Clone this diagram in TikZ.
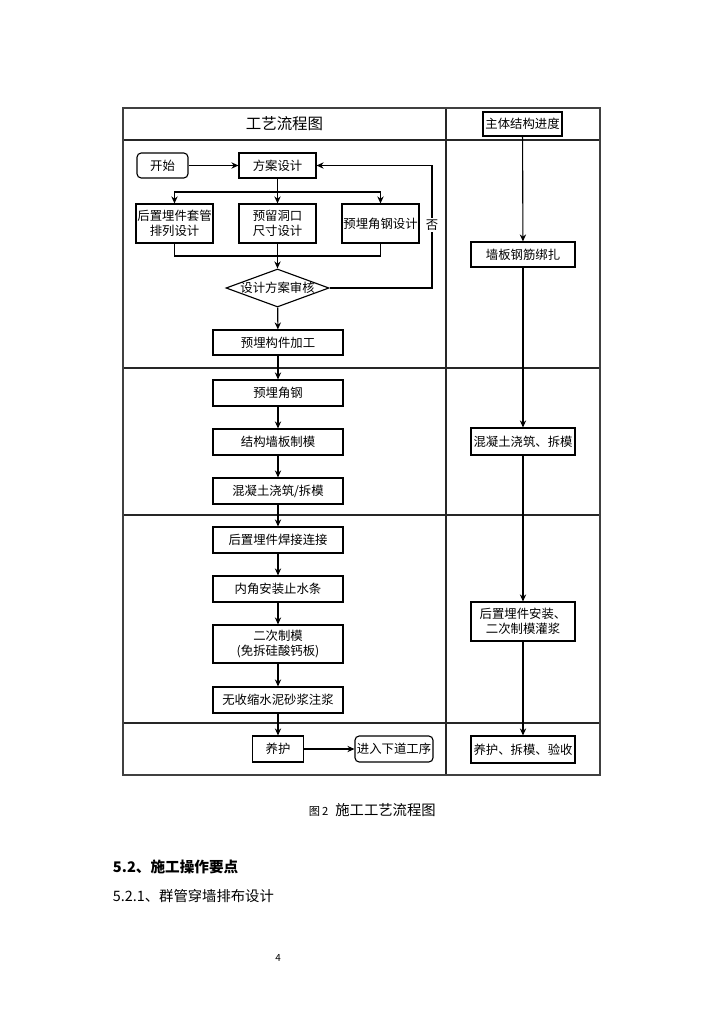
\documentclass[tikz,border=0pt]{standalone}
\usepackage{fontspec}
\setmainfont{Noto Sans CJK SC}
\usetikzlibrary{shapes.geometric,arrows.meta}

\tikzset{
  boxsize/.style 2 args={minimum width=#1*0.7113pt, minimum height=#2*0.7113pt},
  stepbox/.style={draw, line width=0.8pt, inner sep=1pt, align=center,
    font=\fontsize{8.8}{10.7}\selectfont},
  startbox/.style={stepbox, rounded corners=3pt},
  checkbox/.style={draw, diamond, aspect=2.7, line width=0.8pt, inner sep=-1.5pt,
    boxsize={103}{38}, font=\fontsize{8.8}{10.7}\selectfont},
  flow/.style={line width=0.8pt, -{Stealth[length=5pt,width=4.5pt]}},
  link/.style={line width=0.8pt},
  frame/.style={line width=1.2pt, draw=black!75},
  grid/.style={line width=0.9pt, draw=black!85}
}

\begin{document}
\begin{tikzpicture}[x=0.025cm, y=-0.025cm]
    % Page size in pixels of the reference
    \useasboundingbox (0,0) rectangle (724,1024);

    % Draw the table frame and its rows
    \draw[grid] (446,108) -- (446,775);
    \draw[grid] (123,140) -- (600,140);
    \draw[grid] (123,368) -- (600,368);
    \draw[grid] (123,515) -- (600,515);
    \draw[grid] (123,723) -- (600,723);
    \draw[frame] (123,108) rectangle (600,775);

    % Column titles
    \node [font=\fontsize{11}{13}\selectfont] (title) at (284.5,124) {工艺流程图};
    \node [stepbox, boxsize={79}{24}, fill=white] (zhuti) at (522.5,124) {主体结构进度};

    % Design stage
    \node [startbox, boxsize={51}{25}] (start) at (162.5,165.5) {开始};
    \node [stepbox, boxsize={77}{25}] (fangan) at (277.5,165.5) {方案设计};
    \node [stepbox, boxsize={77}{39}] (taoguan) at (174.5,223.5) {后置埋件套管\\排列设计};
    \node [stepbox, boxsize={77}{39}] (dongkou) at (277.5,223.5) {预留洞口\\尺寸设计};
    \node [stepbox, boxsize={77}{39}] (jiaogangsj) at (380.5,223.5) {预埋角钢设计};
    \node [checkbox] (shenhe) at (277.5,288) {设计方案审核};
    \node [stepbox, boxsize={130}{25}] (jiagong) at (278,342.5) {预埋构件加工};

    % Casting stage
    \node [stepbox, boxsize={130}{26}] (jiaogang) at (278,393) {预埋角钢};
    \node [stepbox, boxsize={130}{26}] (zhimo) at (278,442) {结构墙板制模};
    \node [stepbox, boxsize={130}{26}] (jiaozhu) at (278,491) {混凝土浇筑/拆模};

    % Post-installation stage
    \node [stepbox, boxsize={130}{26}] (hanjie) at (278,540) {后置埋件焊接连接};
    \node [stepbox, boxsize={130}{26}] (zhishui) at (278,589) {内角安装止水条};
    \node [stepbox, boxsize={130}{38}] (erci) at (278,644) {二次制模\\(免拆硅酸钙板)};
    \node [stepbox, boxsize={130}{26}] (zhujiang) at (278,700) {无收缩水泥砂浆注浆};

    % Curing stage
    \node [stepbox, boxsize={51}{26}] (yanghu) at (278,749) {养护};
    \node [startbox, boxsize={78}{26}] (next) at (394,749) {进入下道工序};

    % Main structure progress
    \node [stepbox, boxsize={104}{25}] (bangza) at (523,254.5) {墙板钢筋绑扎};
    \node [stepbox, boxsize={104}{27}] (jiaozhuR) at (523,441.5) {混凝土浇筑、拆模};
    \node [stepbox, boxsize={104}{39}] (anzhuang) at (523,621.5) {后置埋件安装、\\二次制模灌浆};
    \node [stepbox, boxsize={104}{27}] (yanshou) at (523,749.5) {养护、拆模、验收};

    % Branch and join points
    \coordinate (split) at (277.5,192);
    \coordinate (join) at (277.5,256);
    \coordinate (back) at (432,288);

    % Draw the connectors of the design stage
    \draw[flow] (start) -- (fangan);
    \draw[link] (fangan) -- (split);
    \draw[flow] (split) -| (taoguan.north);
    \draw[flow] (split) -- (dongkou);
    \draw[flow] (split) -| (jiaogangsj.north);
    \draw[link] (taoguan.south) |- (join);
    \draw[link] (jiaogangsj.south) |- (join);
    \draw[link] (dongkou) -- (join);
    \draw[flow] (join) -- (shenhe.north);
    \draw[flow] (shenhe.east) -- (back) |- (fangan.east);
    \node [fill=white, inner sep=1pt, font=\fontsize{8.8}{10.7}\selectfont] (no) at (432,225) {否};
    \draw[flow] (shenhe) -- (jiagong);

    % Draw the connectors down the left column
    \draw[flow] (jiagong) -- (jiaogang);
    \draw[flow] (jiaogang) -- (zhimo);
    \draw[flow] (zhimo) -- (jiaozhu);
    \draw[flow] (jiaozhu) -- (hanjie);
    \draw[flow] (hanjie) -- (zhishui);
    \draw[flow] (zhishui) -- (erci);
    \draw[flow] (erci) -- (zhujiang);
    \draw[flow] (zhujiang) -- (yanghu);
    \draw[flow] (yanghu) -- (next);

    % Draw the connectors down the right column
    \draw[flow] (zhuti) -- (bangza);
    \draw[flow] (bangza) -- (jiaozhuR);
    \draw[flow] (jiaozhuR) -- (anzhuang);
    \draw[flow] (anzhuang) -- (yanshou);

    % Caption and the page text below
    \node [anchor=west, font=\fontsize{10.2}{12}\selectfont] (caption) at (304,810)
      {{\fontsize{8}{9}\selectfont 图\,2}\hspace{5pt}施工工艺流程图};
    \node [anchor=west, font=\fontsize{10.4}{12}\bfseries] (head) at (108,867) {5.2、施工操作要点};
    \node [anchor=west, font=\fontsize{10.2}{12}\selectfont] (subhead) at (108,896) {5.2.1、群管穿墙排布设计};
    \node [font=\fontsize{7}{8}\selectfont] (page) at (278,958) {4};

\end{tikzpicture}
\end{document}
